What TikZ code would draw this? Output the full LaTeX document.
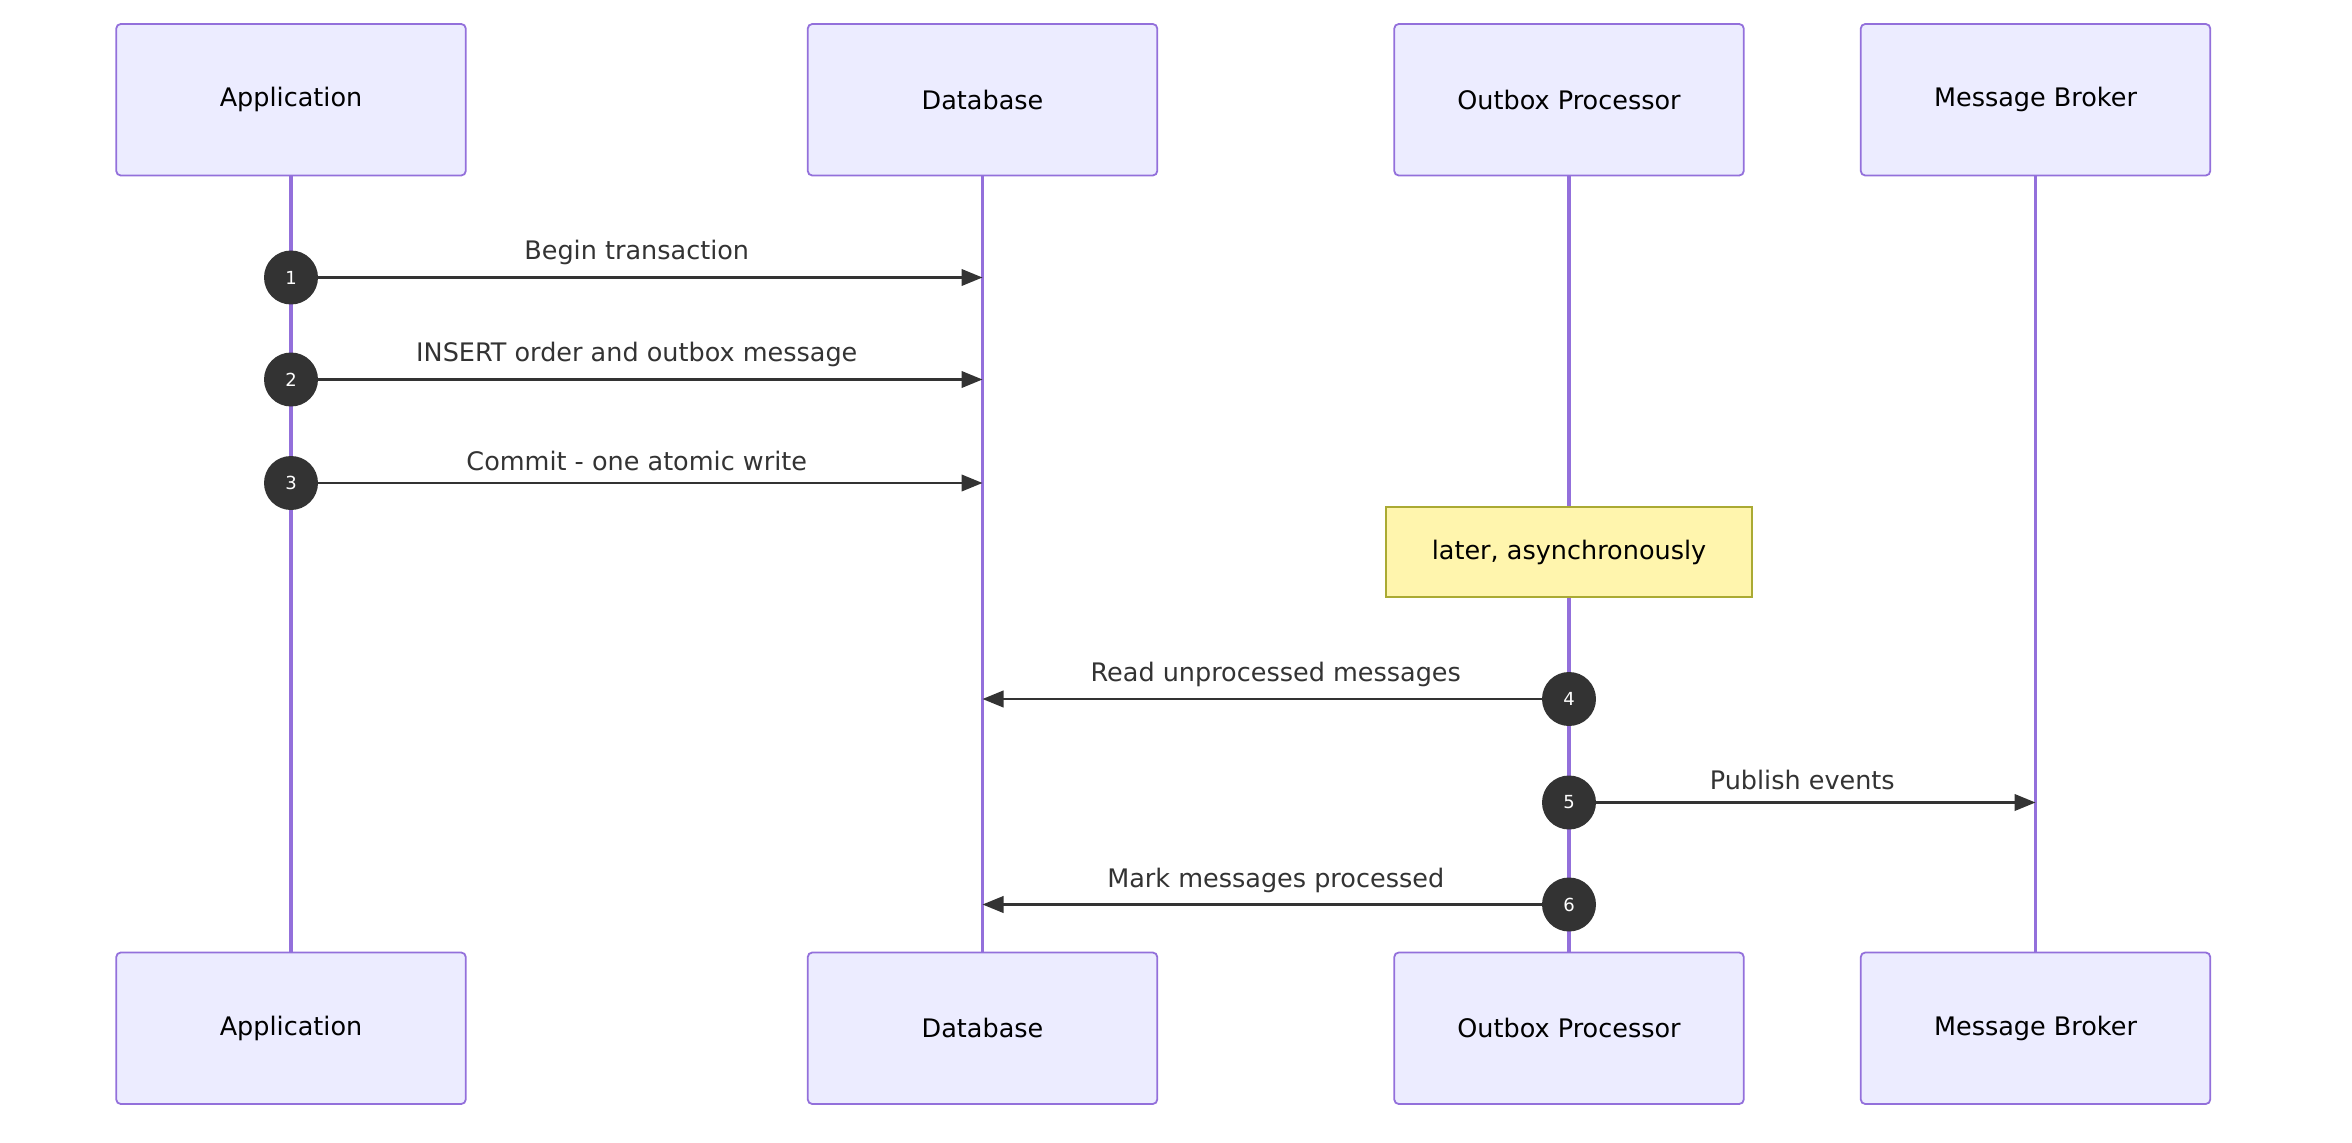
\documentclass[tikz,border=0pt]{standalone}
\usepackage{fontspec}
\setmainfont{DejaVu Sans}
\usetikzlibrary{arrows.meta}
\definecolor{actfill}{HTML}{ECECFF}
\definecolor{actline}{HTML}{9370DB}
\definecolor{notefill}{HTML}{FFF5AD}
\definecolor{noteline}{HTML}{AAAA33}
\definecolor{dark}{HTML}{333333}
\begin{document}
\begin{tikzpicture}[x=1pt,y=-1pt,
 actor/.style={draw=actline,fill=actfill,line width=1.2pt,rounded corners=3pt,minimum width=233pt,minimum height=101pt,font=\fontsize{17}{20}\selectfont},
 life/.style={actline,line width=2.5pt},
 msg/.style={dark,line width=1.6pt,-{Triangle[length=14pt,width=11pt]}},
 num/.style={circle,fill=dark,text=white,minimum size=36pt,inner sep=0pt,font=\fontsize{12}{14}\selectfont},
 lbl/.style={text=dark,font=\fontsize{17}{20}\selectfont,above=4pt}]
\useasboundingbox (0,0) rectangle (1568,762);
\foreach \n/\x/\t in {a/194/Application,d/655/Database,o/1046/Outbox Processor,b/1357/Message Broker}{
 \coordinate (\n t) at (\x,117);
 \coordinate (\n b) at (\x,635);
 \draw[life] (\n t) -- (\n b);
 \node[actor] (\n top) at (\x,66.5) {\t};
 \node[actor] (\n bot) at (\x,685.5) {\t};
}
\node[draw=noteline,fill=notefill,line width=1pt,minimum width=244pt,minimum height=60pt,font=\fontsize{17}{20}\selectfont] (note) at (1046,368) {later, asynchronously};
% messages
\foreach \i/\y/\s/\sx/\e/\ex/\t in {1/185/a/194/d/655/Begin transaction,2/253/a/194/d/655/INSERT order and outbox message,3/322/a/194/d/655/Commit - one atomic write,4/466/o/1046/d/655/Read unprocessed messages,5/535/o/1046/b/1357/Publish events,6/603/o/1046/d/655/Mark messages processed}{
 \coordinate (s\i) at (\sx,\y);
 \coordinate (e\i) at (\ex,\y);
 \draw[msg] (s\i) -- (e\i) node[midway,lbl] {\t};
 \node[num] (n\i) at (s\i) {\i};
}
\end{tikzpicture}
\end{document}
